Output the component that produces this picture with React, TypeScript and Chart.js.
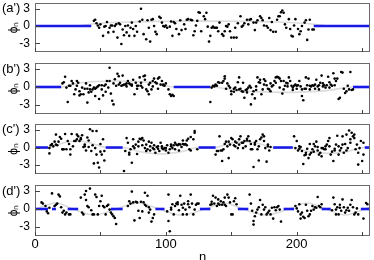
import React, { useEffect, useRef } from "react";
import { Chart, registerables } from "chart.js";

Chart.register(...registerables);

const X_MAX = 256;
const X_TICKS = [0, 50, 100, 150, 200, 250];
const X_LABELS = [0, 100, 200];
const Y_TICKS = [-3, 0, 3];
const Y_MIN = -4.5;
const Y_MAX = 4;
const PANEL_LABELS = ["(a')", "(b')", "(c')", "(d')"];

// [n, phi_n] scatter points
const dotsA: [number, number][] = [
  [45,0.9],[46,1.1],[47,0.5],[48,0.1],[49,-0.3],[50,0.3],[52,-1.7],[53,-0.1],[54,0],[55,0.7],
  [56,-1.1],[57,-0.3],[58,0.1],[59,0.1],[60,-1.0],[61,0],[62,0.3],[63,-2.0],[64,0.5],[65,0.3],
  [66,-3.1],[67,-0.6],[68,-1.6],[69,0],[70,-1.1],[71,0.1],[72,-1.7],[73,-0.3],[74,0.6],[75,-0.5],
  [76,-1.7],[77,0],[78,-1.0],[80,0.8],[81,3.0],[82,1.1],[83,-1.4],[85,-2.3],[86,1.0],[87,-0.3],
  [88,-2.7],[89,1.1],[90,1.2],[91,0],[92,-1.0],[93,-1.4],[95,1.6],[96,1.4],[97,0.6],[98,0],
  [99,-0.1],[100,0.1],[101,-0.3],[103,-0.1],[104,0.8],[105,-1.7],[106,0.7],[107,0.5],[108,-0.5],[110,-1.4],
  [111,1.0],[112,-0.7],[114,0.3],[115,-0.5],[116,1.1],[117,1.2],[119,1.1],[120,1.0],[121,-1.6],[122,-0.9],
  [123,0.1],[124,0.9],[125,2.4],[126,2.3],[127,-0.9],[129,1.7],[130,1.2],[131,2.3],[132,-0.1],[133,-2.7],
  [134,-1.7],[135,-0.3],[136,-0.1],[137,-0.3],[138,-0.3],[139,-0.3],[140,-0.9],[141,0.6],[143,-1.4],[144,-1.7],
  [145,-0.9],[146,0],[147,-0.1],[148,0.3],[149,-0.9],[150,-2.0],[152,-2.0],[153,-0.3],[154,-2.0],[155,0.5],
  [157,1.7],[158,-0.1],[159,0.1],[160,0.5],[162,1.1],[163,0.3],[164,1.1],[165,1.2],[167,0.6],[168,-0.7],
  [169,0.6],[170,1.0],[172,1.7],[173,1.4],[174,1.0],[175,0.1],[177,0],[178,-0.3],[179,1.4],[180,-0.7],
  [181,0.7],[182,-1.0],[184,-1.0],[185,1.1],[186,1.7],[187,1.7],[188,2.4],[189,2.7],[190,2.3],[191,0.3],
  [192,-0.3],[194,1.2],[195,-0.5],[196,-1.7],[197,-1.8],[198,0.1],[199,1.2],[201,-0.5],[202,-1.4],[203,-0.9],
  [204,0],[206,0.6],[207,1.0],[208,-2.4],[209,-0.6],[210,1.1],[212,-0.6],[213,-0.6],
];

const dotsB: [number, number][] = [
  [21,0.6],[22,0.8],[23,1.7],[24,-0.1],[25,-2.5],[26,0.2],[27,0.2],[28,1.0],[29,0.6],[30,-1.2],
  [31,-0.4],[32,1.0],[32,0.2],[33,0.7],[34,-1.4],[34,-0.7],[35,-1.2],[36,-0.1],[37,-1.2],[38,-0.3],
  [39,0.6],[40,-0.3],[40,-2.6],[41,-0.9],[42,-0.4],[42,0.3],[43,-0.8],[44,-0.4],[45,-0.1],[46,-0.3],
  [46,-1.5],[47,-0.1],[48,0.1],[49,0.3],[49,-2.0],[51,-0.4],[51,0.3],[52,-1.4],[53,0.2],[54,-0.8],
  [54,0.4],[55,1.0],[56,-0.1],[57,3.2],[57,1.0],[58,-1.1],[59,-2.3],[60,-2.9],[60,0.6],[61,1.3],
  [62,0.2],[63,2.2],[64,0.4],[64,1.8],[65,0.7],[66,0.2],[67,0.3],[67,1.9],[68,0.4],[69,0.4],
  [70,0.1],[70,0.6],[71,1.0],[72,0.6],[73,0.4],[74,0.2],[74,0.4],[75,1.2],[76,-1.2],[77,0.7],
  [78,0.2],[78,-0.3],[79,0.2],[80,1.6],[81,0.7],[81,0.2],[82,-0.1],[83,1.8],[84,1.9],[84,1.2],
  [85,-0.4],[86,-0.7],[87,0.4],[87,-1.2],[88,0.7],[89,-0.4],[90,0.1],[90,1.0],[91,1.4],[92,0.8],
  [93,0.6],[94,-0.3],[94,1.4],[95,1.6],[96,0.4],[97,1.0],[98,0.3],[98,0.4],[99,0.2],[100,0.6],
  [102,-0.4],[103,-1.2],[104,-1.5],[105,-1.3],[106,-1.5],
  [134,-2.5],[135,-0.1],[136,0.2],[137,0.1],[138,0.3],[138,0.4],[139,0.2],[140,0.8],[141,0.7],[143,0.7],
  [144,1.0],[145,1.8],[145,1.4],[146,-0.3],[147,0.6],[148,0.2],[149,-0.1],[150,-1.2],[150,-0.7],[152,-0.3],
  [152,-0.8],[153,-0.1],[154,-0.5],[155,0.8],[156,-0.4],[156,1.6],[157,-0.3],[158,-0.7],[159,0.7],[159,-0.8],
  [160,-1.8],[161,-0.5],[162,-0.9],[162,-0.4],[163,-0.1],[164,0.2],[165,-0.1],[165,-2.9],[166,-1.2],[167,-0.7],
  [168,-1.9],[169,-0.5],[169,0.1],[170,1.6],[171,0.8],[172,0.7],[172,1.2],[173,-1.2],[174,-0.4],[175,0.4],
  [175,1.3],[176,1.0],[177,0.3],[178,-0.3],[179,-0.4],[180,0.6],[180,-0.7],[181,0.1],[182,0.3],[183,1.0],
  [184,0.7],[184,1.6],[185,1.7],[186,1.6],[187,1.4],[187,-0.1],[188,1.0],[189,-1.1],[190,1.0],[190,-0.4],
  [191,0.2],[192,0.7],[193,0.1],[193,0.6],[194,1.6],[195,1.0],[196,0.2],[197,-0.5],[197,-0.1],[198,0.2],
  [199,0.4],[200,-0.3],[200,0.2],[201,0.3],[202,1.0],[203,0.1],[204,-0.4],[204,-1.5],[205,-2.2],[206,-0.3],
  [207,1.6],[207,-0.3],[208,0.3],[209,1.4],[210,-0.4],[210,0.2],[211,0.1],[212,0.3],[213,0.2],[214,-0.3],
  [214,0.4],[215,1.2],[216,0.1],[217,0.3],[217,-0.4],[218,0.7],[219,1.9],[220,0.6],[220,0.1],[221,0.3],
  [222,-0.1],[223,0.3],[224,1.7],[225,-0.1],[225,0.8],[226,0.4],[227,0.2],[228,2.3],[229,1.4],[229,0.3],
  [230,1.0],[231,1.4],[232,-2.0],[233,-1.8],[234,2.5],[235,2.4],[236,-0.3],[237,-1.0],[238,-0.7],[239,0.2],
  [240,-0.4],[241,2.5],[242,-0.5],[243,-0.4],
];

const dotsC: [number, number][] = [
  [11,-1.0],[11,-0.1],[12,0.4],[13,0.6],[14,0.2],[15,1.0],[16,0.5],[16,2.2],[17,0.4],[18,1.0],
  [19,1.8],[20,1.5],[21,-0.3],[21,-0.3],[22,-0.3],[23,2.3],[24,-0.3],[25,1.1],[26,0.6],[27,-0.3],
  [27,-1.2],[28,2.3],[29,0.2],[30,1.1],[31,1.1],[32,2.2],[32,1.4],[33,1.9],[34,1.1],[35,1.6],
  [35,1.4],[36,2.1],[37,0.1],[38,0.2],[38,0.5],[39,-0.5],[40,1.7],[41,1.2],[41,0.1],[42,3.1],
  [43,-0.6],[44,0.4],[44,2.8],[45,-2.7],[46,-0.1],[47,-1.2],[47,2.8],[48,-2.6],[49,-3.4],[50,0.6],
  [50,-0.7],[51,-1.2],[52,1.4],[53,-2.2],[53,-0.6],
  [68,-4.0],[69,-0.6],[70,1.6],[71,0.8],[72,-0.9],[72,-1.2],[73,-0.3],[74,-2.6],[75,0.2],[75,1.4],
  [76,-0.1],[77,0.5],[78,-1.1],[79,1.0],[79,0.2],[80,1.5],[81,1.4],[82,1.6],[82,0.4],[83,1.2],
  [84,-0.1],[85,0.5],[85,-0.6],[86,-0.3],[87,1.0],[88,-0.5],[88,0.2],[89,0.8],[90,-0.1],[91,-0.3],
  [91,0.4],[92,-0.9],[93,0.1],[94,0.2],[94,-0.2],[95,-0.6],[96,0.8],[97,-0.1],[97,0.2],[98,-0.3],
  [99,-0.1],[100,-0.5],[100,-0.1],[101,0.4],[102,-0.9],[103,-0.3],[104,0.2],[104,0.5],[105,-0.1],[106,0.4],
  [107,0.8],[107,-0.3],[108,0.5],[109,0.4],[110,0.6],[110,-0.5],[111,0.5],[112,0.1],[113,0.6],[113,1.2],
  [114,0.5],[115,0.6],[116,1.2],[116,0.4],[117,1.5],[118,-0.3],[119,1.8],[119,-0.5],[121,1.4],[122,2.5],
  [122,2.8],[124,-0.3],
  [138,-1.2],[139,-0.6],[140,-0.6],[141,1.9],[142,-0.5],[143,-2.3],[143,-0.5],[144,-0.3],[145,0.6],[146,1.0],
  [147,0.2],[148,1.0],[148,-1.8],[149,0.5],[150,1.6],[151,1.4],[152,0.4],[153,1.0],[153,0.2],[154,0.8],
  [155,-0.1],[156,1.4],[156,0.5],[157,1.9],[158,0.8],[159,-0.1],[159,0.8],[160,1.1],[161,0.2],[162,1.5],
  [162,1.2],[163,1.9],[164,1.1],[165,0.6],[165,-0.3],[166,-0.3],[167,-3.3],[168,0.5],[168,0.8],[169,1.1],
  [170,-0.3],[171,-2.2],[171,0.2],[172,1.4],[173,1.7],[174,2.2],[175,1.1],[175,1.9],[176,-0.1],[177,-2.4],
  [178,0.5],[178,0.2],[179,-0.5],[180,0.1],
  [198,1.9],[199,-0.1],[200,1.1],[201,-0.5],[202,-0.2],[202,0.2],[203,0.1],[204,-0.6],[205,-2.8],[206,-1.3],
  [207,-1.2],[207,-0.9],[208,-0.2],[209,-1.8],[210,0.6],[210,-1.2],[211,-0.9],[212,-0.3],[213,-0.7],[213,0.6],
  [214,0.2],[215,1.0],[216,-0.5],[216,0.1],[217,-1.2],[218,-0.9],[219,-0.1],[219,-1.5],[220,-0.1],[221,-0.3],
  [222,0.2],[222,-0.3],[223,0.5],[224,1.1],[225,0.2],[225,1.6],[226,-1.2],[227,-0.7],[228,-2.3],[229,-0.2],
  [229,-0.5],[230,0.5],[231,2.0],[232,0.2],[232,-1.2],[233,-0.5],[234,-0.1],[235,0.5],[235,1.9],[236,-0.9],
  [237,0.6],[238,-0.5],[238,2.2],[239,-0.1],[240,2.9],[241,1.4],[241,0.8],[242,2.5],[243,1.9],[244,1.6],
  [244,2.2],[245,-0.3],[246,0.5],[247,-0.9],[247,-2.9],[248,-0.1],[249,1.1],[250,-2.3],[251,0.8],[251,-1.2],
];

const dotsD: [number, number][] = [
  [5,1.1],[6,0.9],[8,0.5],[9,-0.4],[10,-0.7],[11,0.2],[13,2.6],[15,0.5],[16,0.7],[17,0.9],
  [18,2.4],[19,2.1],[20,0.3],[21,-0.6],[22,-0.3],[23,-0.9],[24,-0.6],[26,-0.9],[27,-0.9],
  [35,1.9],[36,-0.6],[37,-0.9],[38,2.4],[39,3.0],[39,1.5],[40,0.5],[41,0.3],[42,3.4],[43,-0.2],
  [44,-0.9],[45,-0.9],[46,2.4],[47,2.0],[48,-0.9],[49,0.5],[50,1.3],[51,2.2],[52,0.5],[53,0.3],
  [54,-0.9],[55,0.5],[56,0.7],[57,-0.1],[58,-0.6],[59,-0.9],[60,-1.2],[61,-1.5],[62,-2.5],
  [71,0.5],[72,1.3],[73,0.9],[74,2.9],[75,1.1],[76,-1.9],[77,1.2],[78,1.1],[79,-0.3],[80,-1.5],
  [81,1.2],[82,-0.4],[83,1.1],[84,2.7],[84,0.7],[85,0.5],[86,2.2],[87,-0.6],[87,0.3],[88,-0.1],
  [89,-2.1],[90,-1.5],[91,-0.9],
  [101,-0.4],[102,2.4],[102,-2.0],[103,-3.7],[104,0.2],[104,-0.1],[105,0.8],[106,-0.9],[107,0.5],[108,0.9],
  [109,0.8],[109,1.1],[110,-0.2],[111,2.2],[112,0.7],[113,0.2],[113,-0.9],[114,0.9],[115,-0.1],[116,-0.9],
  [117,1.3],[117,0.8],[118,0.3],[119,2.4],[120,0.9],[121,-0.9],[122,-0.1],[123,0.7],[124,0.9],[125,0.9],
  [134,0.7],[135,1.2],[135,0.8],[136,2.2],[137,0.9],[138,1.9],[139,0.5],[140,1.6],[140,0.9],[141,0.7],
  [142,1.3],[143,0.7],[144,1.1],[145,1.9],[145,0.7],[146,0.5],[147,2.4],[148,1.9],[149,1.1],[150,-0.9],
  [151,-0.9],[152,1.3],[153,1.8],[154,0.8],
  [164,2.4],[165,0.9],[166,-0.3],[167,-2.0],[167,-2.6],[168,-1.2],[169,-0.6],[170,-0.1],[171,0.3],[172,1.5],
  [173,-0.9],[174,0.7],[175,-0.1],[176,0.3],[177,-0.9],[178,-0.6],[179,-0.3],[180,-0.9],[181,0.2],[182,-1.6],
  [183,0.3],[184,-0.2],[185,0.3],[186,0.5],[187,-0.1],[188,-2.1],
  [199,0.5],[200,0.1],[201,-0.4],[202,0.8],[203,-0.9],[203,-1.6],[204,-0.6],[205,-1.3],[206,-1.5],[207,0.7],
  [208,-0.3],[209,-1.2],[210,-0.9],[211,-0.3],[212,0.5],[213,-0.1],[214,0.3],[215,0.2],[216,2.0],[217,0.5],
  [218,0.3],[219,0.8],
  [227,-0.2],[228,1.9],[229,0.8],[230,-0.9],[230,-0.1],[231,0.3],[232,-0.9],[233,0.2],[233,0.7],[234,-0.3],
  [235,1.6],[236,0.3],[237,-0.6],[238,-0.2],[239,0.2],[240,-0.3],[241,0.7],[242,1.5],[243,0.3],[244,-0.9],
  [245,-0.6],[246,0.1],[247,-0.9],[251,-1.6],[253,1.0],[254,0.8],
];

// [start n, end n] stretches where phi_n sits on the blue zero line
const blueA: [number, number][] = [[0, 43], [213, 256]];
const blueB: [number, number][] = [[0, 20], [106, 134], [243, 256]];
const blueC: [number, number][] = [[0, 10], [54, 67], [125, 138], [182, 197], [252, 256]];
const blueD: [number, number][] = [[0, 10], [13, 16], [25, 33], [58, 67], [92, 99], [126, 134], [155, 163], [190, 198], [219, 226], [249, 256]];

// light gray envelope curves (n, value)
const grayA: [number, number][] = [[0,0],[30,0],[45,0.4],[70,0.7],[128,0.85],[185,0.7],[210,0.4],[227,0],[256,0]];
const grayB: [number, number][] = [[0,0],[20,0],[35,0.7],[63,1.0],[91,0.7],[106,0],[134,0],[155,-0.6],[189,-0.9],[223,-0.6],[243,0],[256,0]];
const grayC: [number, number][] = [[0,0],[10,0],[20,0.7],[32,1.1],[44,0.7],[54,0],[67,0],[80,-0.7],[96,-1.1],[112,-0.7],[125,0],[138,0],[148,0.7],[160,1.0],[171,0.7],[182,0],[197,0],[210,-0.7],[224,-1.0],[238,-0.7],[252,0],[256,0]];
const grayD: [number, number][] = [[0,0],[16,1],[29,0],[45,-1],[62,0],[79,1],[95,0],[112,-1],[130,0],[145,1],[159,0],[176,-1],[194,0],[208,1],[222,0],[237,-1],[252,0],[256,0.3]];

const FONT = '"Liberation Sans", Arial, Helvetica, sans-serif';
Chart.defaults.font.family = FONT;

type PanelDef = {
  label: string;
  dots: [number, number][];
  blue: [number, number][];
  gray: [number, number][];
  top: number;
  height: number;
  showX: boolean;
};

const PANELS: PanelDef[] = [
  { label: PANEL_LABELS[0], dots: dotsA, blue: blueA, gray: grayA, top: 3, height: 49, showX: false },
  { label: PANEL_LABELS[1], dots: dotsB, blue: blueB, gray: grayB, top: 63, height: 51, showX: false },
  { label: PANEL_LABELS[2], dots: dotsC, blue: blueC, gray: grayC, top: 124, height: 50, showX: false },
  { label: PANEL_LABELS[3], dots: dotsD, blue: blueD, gray: grayD, top: 185, height: 51, showX: true },
];

const PAD = 16;
const X_AXIS_H = 29;

const framePlugin = {
  id: "frame",
  afterDatasetsDraw(chart: any, _args: any, opts: any) {
    const { ctx, chartArea } = chart;
    const { left, right, top, bottom } = chartArea;
    const xs = chart.scales.x;
    const ys = chart.scales.y;
    ctx.save();
    ctx.strokeStyle = "#6a6a6a";
    ctx.lineWidth = 1;
    ctx.strokeRect(left + 0.5, top + 0.5, right - left - 1, bottom - top - 1);
    ctx.strokeStyle = "#444";
    ctx.beginPath();
    Y_TICKS.forEach((v) => {
      const py = Math.round(ys.getPixelForValue(v)) + 0.5;
      ctx.moveTo(left, py);
      ctx.lineTo(left + 5, py);
    });
    X_TICKS.forEach((v) => {
      const px = Math.round(xs.getPixelForValue(v)) + 0.5;
      ctx.moveTo(px, bottom);
      ctx.lineTo(px, bottom - 4);
    });
    ctx.stroke();
    ctx.fillStyle = "#000";
    ctx.font = "13px " + FONT;
    ctx.textAlign = "left";
    ctx.textBaseline = "middle";
    ctx.fillText(opts.label, 2, ys.getPixelForValue(3));
    ctx.restore();
  },
};

function Panel({ def }: { def: PanelDef }) {
  const ref = useRef<HTMLCanvasElement>(null);
  const canvasH = PAD + def.height + (def.showX ? X_AXIS_H : PAD);

  useEffect(() => {
    const datasets: any[] = [];
    datasets.push({
      data: def.dots.map(([x, y]) => ({ x, y })),
      showLine: false,
      pointRadius: 1.3,
      pointBackgroundColor: "#000",
      pointBorderWidth: 0,
      order: 0,
    });
    def.blue.forEach(([s, e]) => {
      datasets.push({
        data: [{ x: s, y: 0 }, { x: e, y: 0 }],
        showLine: true,
        borderColor: "#1a1ae8",
        borderWidth: 2.6,
        pointRadius: 0,
        order: 1,
      });
    });
    datasets.push({
      data: def.gray.map(([x, y]) => ({ x, y })),
      showLine: true,
      borderColor: "#dcdcdc",
      borderWidth: 1.6,
      pointRadius: 0,
      cubicInterpolationMode: "monotone",
      order: 2,
    });

    const chart = new Chart(ref.current as HTMLCanvasElement, {
      type: "scatter",
      data: { datasets },
      plugins: [framePlugin as any],
      options: {
        responsive: false,
        animation: false,
        devicePixelRatio: 1,
        layout: { padding: { top: PAD, bottom: def.showX ? 0 : PAD, left: 0, right: 2 } },
        plugins: {
          legend: { display: false },
          tooltip: { enabled: false },
          frame: { label: def.label },
        } as any,
        scales: {
          x: {
            type: "linear",
            min: 0,
            max: X_MAX,
            display: def.showX,
            afterBuildTicks: (s: any) => {
              s.ticks = X_TICKS.map((v) => ({ value: v }));
            },
            afterFit: (s: any) => {
              if (def.showX) s.height = X_AXIS_H;
            },
            grid: { display: false, drawTicks: false },
            border: { display: false },
            ticks: {
              padding: 1,
              color: "#000",
              autoSkip: false,
              maxRotation: 0,
              font: { size: 13, family: FONT },
              callback: (v: any) => (X_LABELS.includes(Number(v)) ? String(v) : ""),
            },
            title: {
              display: true,
              text: "n",
              color: "#000",
              padding: { top: 0, bottom: 0 },
              font: { size: 13, family: FONT },
            },
          },
          y: {
            type: "linear",
            min: Y_MIN,
            max: Y_MAX,
            afterBuildTicks: (s: any) => {
              s.ticks = Y_TICKS.map((v) => ({ value: v }));
            },
            afterFit: (s: any) => {
              s.width = 35;
            },
            grid: { display: false, drawTicks: false },
            border: { display: false },
            ticks: {
              padding: 5,
              color: "#000",
              font: { size: 12, family: FONT },
              callback: (v: any) => String(v),
            },
            title: {
              display: true,
              text: "ϕₙ",
              color: "#000",
              padding: { top: 6, bottom: 0 },
              font: { size: 12, family: FONT },
            },
          },
        } as any,
      },
    } as any);
    return () => chart.destroy();
  }, []);

  return (
    <canvas
      ref={ref}
      width={374}
      height={canvasH}
      style={{ position: "absolute", left: 0, top: def.top - PAD, width: 374, height: canvasH }}
    />
  );
}

export default function App() {
  return (
    <div
      style={{
        position: "absolute",
        left: 0,
        top: 0,
        width: 374,
        height: 260,
        overflow: "hidden",
        background: "#fff",
      }}
    >
      {PANELS.map((p, i) => (
        <Panel key={i} def={p} />
      ))}
    </div>
  );
}
